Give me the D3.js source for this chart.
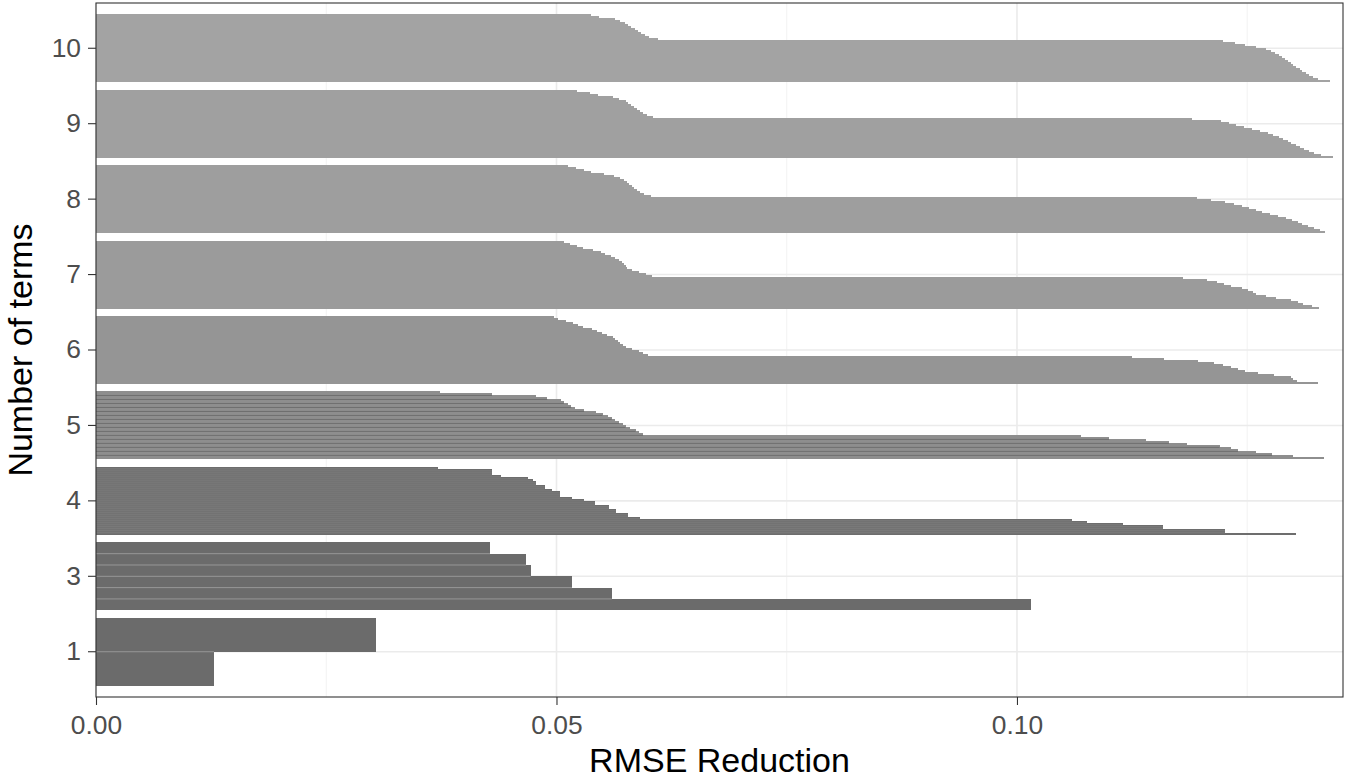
<!DOCTYPE html>
<html><head><meta charset="utf-8">
<script src="https://cdn.jsdelivr.net/npm/d3@7"></script>
<style>html,body{margin:0;padding:0;background:#fff;} svg{display:block;font-family:"Liberation Sans",Arial,Helvetica,sans-serif;}</style>
</head><body><svg id="chart" width="1345" height="783"></svg>
<script>
// ---- data (values listed from the top of each band to its bottom) ----
const categories = ["1", "3", "4", "5", "6", "7", "8", "9", "10"];
const xTickValues = [0, 0.05, 0.10];
const xMinorTickValues = [0.025, 0.075, 0.125];
const xDomainMax = 0.1354;

const terms1 = [0.0304, 0.0128];
const terms3 = [0.0428, 0.0467, 0.0472, 0.0517, 0.0560, 0.1015];
const terms4 = [0.0371, 0.0430, 0.0430, 0.0430, 0.0440, 0.0469, 0.0474, 0.0478, 0.0478, 0.0487,
  0.0487, 0.0495, 0.0504, 0.0504, 0.0504, 0.0517, 0.0530, 0.0542, 0.0542, 0.0557,
  0.0557, 0.0565, 0.0565, 0.0578, 0.0578, 0.0591, 0.1060, 0.1076, 0.1115, 0.1159,
  0.1159, 0.1226, 0.1226, 0.1303];
const terms5 = [0.0373, 0.0430, 0.0478, 0.0490, 0.0505, 0.0508, 0.0512, 0.0516, 0.0520, 0.0530,
  0.0543, 0.0550, 0.0556, 0.0560, 0.0564, 0.0568, 0.0572, 0.0575, 0.0580, 0.0586,
  0.0590, 0.0594, 0.1070, 0.1100, 0.1140, 0.1165, 0.1185, 0.1220, 0.1232, 0.1240,
  0.1259, 0.1277, 0.1300, 0.1333];
const terms6 = [0.0497, 0.0502, 0.0510, 0.0518, 0.0523, 0.0529, 0.0539, 0.0544, 0.0549, 0.0555,
  0.0561, 0.0564, 0.0567, 0.0569, 0.0572, 0.0575, 0.0582, 0.0590, 0.0594, 0.0599,
  0.1125, 0.1160, 0.1197, 0.1214, 0.1224, 0.1232, 0.1240, 0.1248, 0.1262, 0.1279,
  0.1297, 0.1300, 0.1304, 0.1327];
const terms7 = [0.0508, 0.0515, 0.0522, 0.0529, 0.0540, 0.0548, 0.0553, 0.0559, 0.0563, 0.0568,
  0.0571, 0.0573, 0.0575, 0.0577, 0.0582, 0.0590, 0.0597, 0.0604, 0.1180, 0.1206,
  0.1217, 0.1225, 0.1232, 0.1244, 0.1251, 0.1256, 0.1260, 0.1270, 0.1281, 0.1297,
  0.1305, 0.1311, 0.1320, 0.1328];
const terms8 = [0.0513, 0.0521, 0.0530, 0.0537, 0.0552, 0.0562, 0.0569, 0.0573, 0.0577, 0.0579,
  0.0582, 0.0584, 0.0587, 0.0591, 0.0595, 0.0603, 0.1195, 0.1211, 0.1226, 0.1236,
  0.1244, 0.1252, 0.1259, 0.1266, 0.1275, 0.1283, 0.1292, 0.1299, 0.1305, 0.1310,
  0.1316, 0.1322, 0.1329, 0.1334];
const terms9 = [0.0522, 0.0536, 0.0545, 0.0561, 0.0568, 0.0575, 0.0578, 0.0581, 0.0584, 0.0587,
  0.0591, 0.0594, 0.0598, 0.0605, 0.1190, 0.1222, 0.1230, 0.1238, 0.1247, 0.1255,
  0.1264, 0.1273, 0.1278, 0.1284, 0.1289, 0.1294, 0.1298, 0.1303, 0.1307, 0.1312,
  0.1317, 0.1322, 0.1330, 0.1343];
const terms10 = [0.0537, 0.0546, 0.0563, 0.0569, 0.0574, 0.0578, 0.0581, 0.0585, 0.0588, 0.0592,
  0.0596, 0.0600, 0.0610, 0.1224, 0.1237, 0.1248, 0.1259, 0.1270, 0.1276, 0.1280,
  0.1285, 0.1288, 0.1291, 0.1294, 0.1297, 0.1300, 0.1303, 0.1307, 0.1310, 0.1314,
  0.1317, 0.1321, 0.1327, 0.1340];

const seriesByTerms = {"1": terms1, "3": terms3, "4": terms4, "5": terms5, "6": terms6,
  "7": terms7, "8": terms8, "9": terms9, "10": terms10};

// ---- styles ----
const bandFill = {"1": "#6b6b6b", "3": "#6b6b6b", "4": "#6d6d6d", "5": "#8e8e8e", "6": "#959595",
  "7": "#9b9b9b", "8": "#9e9e9e", "9": "#a0a0a0", "10": "#a3a3a3"};
// separator lines between adjacent bars: colour, opacity, draw every n-th boundary
const bandSeparator = {
  "1": {color: "#ffffff", opacity: 0.3, every: 1},
  "3": {color: "#ffffff", opacity: 0.3, every: 1},
  "4": {color: "#ffffff", opacity: 0.12, every: 1},
  "5": {color: "#4a4a4a", opacity: 0.45, every: 2}
};

const W = 1345, H = 783;
const margin = {left: 96, right: 2, top: 3, bottom: 86};
const pl = margin.left, pr = W - margin.right, pt = margin.top, pb = H - margin.bottom;

const svg = d3.select("#chart");
const x = d3.scaleLinear().domain([0, xDomainMax]).range([pl, pr]);
const y = d3.scaleBand().domain(categories.slice().reverse()).range([pt, pb])
  .paddingInner(0.1).paddingOuter(0.15);

// grid
const grid = svg.append("g");
grid.selectAll("line.minor").data(xMinorTickValues).join("line")
  .attr("x1", d => x(d)).attr("x2", d => x(d)).attr("y1", pt).attr("y2", pb)
  .attr("stroke", "#f2f2f2").attr("stroke-width", 1);
grid.selectAll("line.majx").data(xTickValues).join("line")
  .attr("x1", d => x(d)).attr("x2", d => x(d)).attr("y1", pt).attr("y2", pb)
  .attr("stroke", "#ebebeb").attr("stroke-width", 1.6);
grid.selectAll("line.majy").data(categories).join("line")
  .attr("x1", pl).attr("x2", pr)
  .attr("y1", d => y(d) + y.bandwidth() / 2).attr("y2", d => y(d) + y.bandwidth() / 2)
  .attr("stroke", "#ebebeb").attr("stroke-width", 1.6);

// bars
categories.forEach(cat => {
  const vals = seriesByTerms[cat];
  const sub = d3.scaleBand().domain(d3.range(vals.length)).range([y(cat), y(cat) + y.bandwidth()]);
  const g = svg.append("g");
  g.selectAll("rect").data(vals).join("rect")
    .attr("x", x(0))
    .attr("y", (d, i) => sub(i))
    .attr("width", d => x(d) - x(0))
    .attr("height", sub.bandwidth())
    .attr("fill", bandFill[cat])
    .attr("shape-rendering", "crispEdges");
  const sep = bandSeparator[cat];
  if (sep) {
    const bounds = d3.range(1, vals.length).filter(i => i % sep.every === 0);
    g.selectAll("line").data(bounds).join("line")
      .attr("x1", x(0))
      .attr("x2", i => x(Math.min(vals[i], vals[i - 1])))
      .attr("y1", i => sub(i)).attr("y2", i => sub(i))
      .attr("stroke", sep.color).attr("stroke-opacity", sep.opacity)
      .attr("stroke-width", 1);
  }
});

// border
svg.append("rect").attr("x", pl).attr("y", pt).attr("width", pr - pl).attr("height", pb - pt)
  .attr("fill", "none").attr("stroke", "#333333").attr("stroke-width", 1.1);

// axes
const xAxis = svg.append("g").attr("transform", `translate(0,${pb})`)
  .call(d3.axisBottom(x).tickValues(xTickValues).tickFormat(d3.format(".2f")).tickSize(8).tickPadding(10));
const yAxis = svg.append("g").attr("transform", `translate(${pl},0)`)
  .call(d3.axisLeft(y).tickSize(8).tickPadding(7));
[xAxis, yAxis].forEach(a => {
  a.select(".domain").remove();
  a.selectAll(".tick line").attr("stroke", "#333333").attr("stroke-width", 1.1);
  a.selectAll(".tick text").attr("fill", "#4d4d4d").attr("font-size", 26.4)
    .attr("font-family", "'Liberation Sans', Arial, sans-serif");
});

// titles
svg.append("text").attr("x", (pl + pr) / 2).attr("y", 772).attr("text-anchor", "middle")
  .attr("font-size", 34).attr("fill", "#000").text("RMSE Reduction");
svg.append("text").attr("transform", `translate(32,${(pt + pb) / 2}) rotate(-90)`)
  .attr("text-anchor", "middle").attr("font-size", 34).attr("fill", "#000").text("Number of terms");
</script></body></html>
